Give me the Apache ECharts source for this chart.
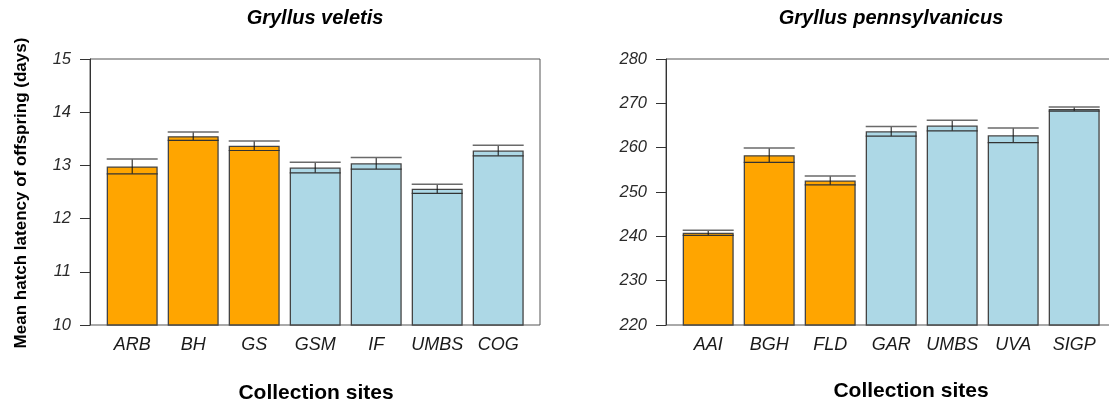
<!DOCTYPE html>
<html>
<head>
<meta charset="utf-8">
<script src="https://cdn.jsdelivr.net/npm/echarts@6/dist/echarts.min.js"></script>
<style>
html,body{margin:0;padding:0;background:#fff;}
#chart{width:1109px;height:406px;}
</style>
</head>
<body>
<div id="chart"></div>
<script>
// ---- data ----
const leftTitle = 'Gryllus veletis';
const leftSites = ['ARB', 'BH', 'GS', 'GSM', 'IF', 'UMBS', 'COG'];
const leftMeans = [12.98, 13.55, 13.37, 12.96, 13.04, 12.56, 13.28];
const leftSE    = [0.14, 0.08, 0.09, 0.10, 0.11, 0.085, 0.10];
const leftGroup = [0, 0, 0, 1, 1, 1, 1];
const leftYMin = 10, leftYMax = 15, leftYStep = 1;

const rightTitle = 'Gryllus pennsylvanicus';
const rightSites = ['AAI', 'BGH', 'FLD', 'GAR', 'UMBS', 'UVA', 'SIGP'];
const rightMeans = [240.8, 258.3, 252.6, 263.7, 265.0, 262.8, 268.7];
const rightSE    = [0.6, 1.6, 1.0, 1.1, 1.2, 1.65, 0.45];
const rightGroup = [0, 0, 0, 1, 1, 1, 1];
const rightYMin = 220, rightYMax = 280, rightYStep = 10;

const xTitle = 'Collection sites';
const yTitle = 'Mean hatch latency of offspring (days)';

// ---- styles ----
const FONT = "'Liberation Sans', Arial, Helvetica, sans-serif";
const groupColors = ['#FFA500', '#ADD8E6'];
const GAP = 0.164;

const chart = echarts.init(document.getElementById('chart'), null, {renderer: 'canvas'});

function errRender(params, api) {
  const i = api.value(0), m = api.value(1), s = api.value(2);
  const top = api.coord([i, m + s]);
  const bot = api.coord([i, m - s]);
  const hw = api.size([1, 0])[0] * (1 - GAP) / 2;
  return {
    type: 'group',
    children: [
      {type: 'line', shape: {x1: top[0], y1: top[1], x2: bot[0], y2: bot[1]}, style: {stroke: '#111', lineWidth: 1}},
      {type: 'line', shape: {x1: top[0] - hw, y1: top[1], x2: top[0] + hw, y2: top[1]}, style: {stroke: '#6a6a6a', lineWidth: 1.5}},
      {type: 'line', shape: {x1: bot[0] - hw, y1: bot[1], x2: bot[0] + hw, y2: bot[1]}, style: {stroke: '#333', lineWidth: 1.2}}
    ]
  };
}

function frameY(gridIndex, min, max, step) {
  return {
    type: 'value', gridIndex: gridIndex, min: min, max: max, interval: step,
    axisLine: {show: true, lineStyle: {color: '#333', width: 1}},
    axisTick: {show: true, length: 10, inside: false, lineStyle: {color: '#333'}},
    axisLabel: {show: true, margin: 19, fontFamily: FONT, fontSize: 16.5, fontStyle: 'italic', color: '#2a2a2a'},
    splitLine: {show: false}
  };
}
function hiddenY(gridIndex, min, max, step) {
  return {type: 'value', gridIndex: gridIndex, min: min, max: max, interval: step, show: false, splitLine: {show: false}};
}
function catX(gridIndex, cats) {
  return {
    type: 'category', gridIndex: gridIndex, data: cats, boundaryGap: true,
    axisLine: {show: false}, axisTick: {show: false},
    axisLabel: {show: true, interval: 0, margin: 11, fontFamily: FONT, fontSize: 18, fontStyle: 'italic', color: '#1a1a1a'},
    splitLine: {show: false}
  };
}

function barSeries(axisIdx, means, groups) {
  return {
    type: 'bar', xAxisIndex: axisIdx, yAxisIndex: axisIdx,
    data: means, barCategoryGap: (GAP * 100) + '%',
    itemStyle: {
      color: p => groupColors[groups[p.dataIndex]],
      borderColor: '#444', borderWidth: 1.3
    },
    z: 2
  };
}
function errSeries(axisIdx, means, se) {
  return {
    type: 'custom', xAxisIndex: axisIdx, yAxisIndex: axisIdx,
    data: means.map((m, i) => [i, m, se[i]]),
    encode: {x: 0, y: 1},
    renderItem: errRender, z: 3, clip: false
  };
}

const option = {
  animation: false,
  backgroundColor: '#fff',
  grid: [
    {left: 90, top: 59, width: 450, height: 266, show: true, borderColor: '#555', borderWidth: 1, outerBoundsMode: 'none', containLabel: false},
    {left: 101.7, top: 59, width: 427, height: 266, outerBoundsMode: 'none', containLabel: false},
    {left: 666, top: 59, width: 490, height: 266, show: true, borderColor: '#555', borderWidth: 1, outerBoundsMode: 'none', containLabel: false},
    {left: 677.7, top: 59, width: 427, height: 266, outerBoundsMode: 'none', containLabel: false}
  ],
  xAxis: [
    {type: 'value', gridIndex: 0, show: false, splitLine: {show: false}},
    catX(1, leftSites),
    {type: 'value', gridIndex: 2, show: false, splitLine: {show: false}},
    catX(3, rightSites)
  ],
  yAxis: [
    frameY(0, leftYMin, leftYMax, leftYStep),
    hiddenY(1, leftYMin, leftYMax, leftYStep),
    frameY(2, rightYMin, rightYMax, rightYStep),
    hiddenY(3, rightYMin, rightYMax, rightYStep)
  ],
  series: [
    barSeries(1, leftMeans, leftGroup),
    errSeries(1, leftMeans, leftSE),
    barSeries(3, rightMeans, rightGroup),
    errSeries(3, rightMeans, rightSE)
  ],
  graphic: [
    {type: 'text', x: 315, y: 18, style: {text: leftTitle, font: 'italic bold 20px ' + FONT, fill: '#000', align: 'center', verticalAlign: 'middle'}},
    {type: 'text', x: 891, y: 18, style: {text: rightTitle, font: 'italic bold 20px ' + FONT, fill: '#000', align: 'center', verticalAlign: 'middle'}},
    {type: 'text', x: 316, y: 393, style: {text: xTitle, font: 'bold 21px ' + FONT, fill: '#000', align: 'center', verticalAlign: 'middle'}},
    {type: 'text', x: 911, y: 391, style: {text: xTitle, font: 'bold 21px ' + FONT, fill: '#000', align: 'center', verticalAlign: 'middle'}},
    {type: 'text', x: 21, y: 193, rotation: Math.PI / 2, style: {text: yTitle, font: 'bold 17px ' + FONT, fill: '#000', align: 'center', verticalAlign: 'middle'}}
  ]
};
chart.setOption(option);
</script>
</body>
</html>
